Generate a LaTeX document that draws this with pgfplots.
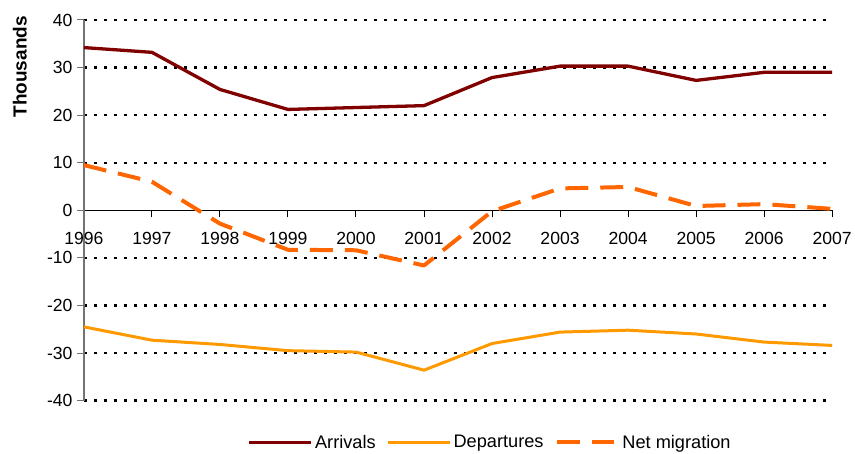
\documentclass[border=0pt]{standalone}
\usepackage{fontspec}
\setmainfont{Liberation Sans}
\usepackage{pgfplots}
\pgfplotsset{compat=1.18}
\definecolor{arr}{HTML}{800000}
\definecolor{dep}{HTML}{FF9900}
\definecolor{net}{HTML}{FF6600}
\begin{document}
\begin{tikzpicture}[x=1pt,y=1pt]
\path (-84,-53) rectangle (771,401);
\begin{axis}[
 at={(0,0)}, anchor=south west,
 scale only axis, width=749pt, height=381pt,
 xmin=1996, xmax=2007, ymin=-40, ymax=40,
 axis x line=middle, axis y line=left,
 axis line style={-},
 x axis line style={black, line width=1.2pt},
 y axis line style={gray!90!black, line width=1.2pt},
 clip=false,
 hide obscured x ticks=false,
 hide obscured y ticks=false,
 xtick={1996,...,2007},
 ytick={-40,-30,-20,-10,10,20,30,40},
 extra y ticks={0},
 extra y tick style={grid=none},
 tick align=outside,
 major tick length=7pt,
 x tick style={black, line width=1pt},
 y tick style={gray!90!black, line width=1pt},
 ymajorgrids,
 major grid style={black, line width=2.4pt, dash pattern=on 3pt off 7pt},
 tick label style={font=\fontsize{17.6}{20}\selectfont},
 /pgf/number format/assume math mode=true,
 x tick label style={/pgf/number format/1000 sep={}, anchor=north, yshift=-11pt},
 y tick label style={anchor=east, xshift=-1pt},
 ylabel={\textbf{Thousands}},
 ylabel style={at={(axis description cs:-0.0855,0.877)}, anchor=center, font=\fontsize{19}{20}\selectfont},
 legend style={at={(axis description cs:0.543,-0.110)}, anchor=center, draw=none, fill=none,
   legend columns=3, font=\fontsize{18.2}{20}\selectfont,
   /tikz/every even column/.append style={column sep=9pt}},
 legend image code/.code={\draw[#1] (0pt,0pt) -- (62pt,0pt);},
 line join=round,
]
\addplot[arr, line width=3.3pt] coordinates {
 (1996,34.2) (1997,33.2) (1998,25.4) (1999,21.2) (2000,21.6) (2001,22.0)
 (2002,27.9) (2003,30.3) (2004,30.3) (2005,27.3) (2006,29.0) (2007,29.0)};
\addlegendentry{Arrivals}
\addplot[dep, line width=3pt] coordinates {
 (1996,-24.5) (1997,-27.3) (1998,-28.2) (1999,-29.5) (2000,-29.8) (2001,-33.6)
 (2002,-28.0) (2003,-25.6) (2004,-25.2) (2005,-26.0) (2006,-27.7) (2007,-28.4)};
\addlegendentry{Departures}
\addplot[net, line width=4pt, dash pattern=on 23pt off 12pt] coordinates {
 (1996,9.5) (1997,6.0) (1998,-2.8) (1999,-8.3) (2000,-8.4) (2001,-11.6)
 (2002,-0.2) (2003,4.6) (2004,4.9) (2005,0.9) (2006,1.3) (2007,0.3)};
\addlegendentry{Net migration}
\end{axis}
\end{tikzpicture}
\end{document}
